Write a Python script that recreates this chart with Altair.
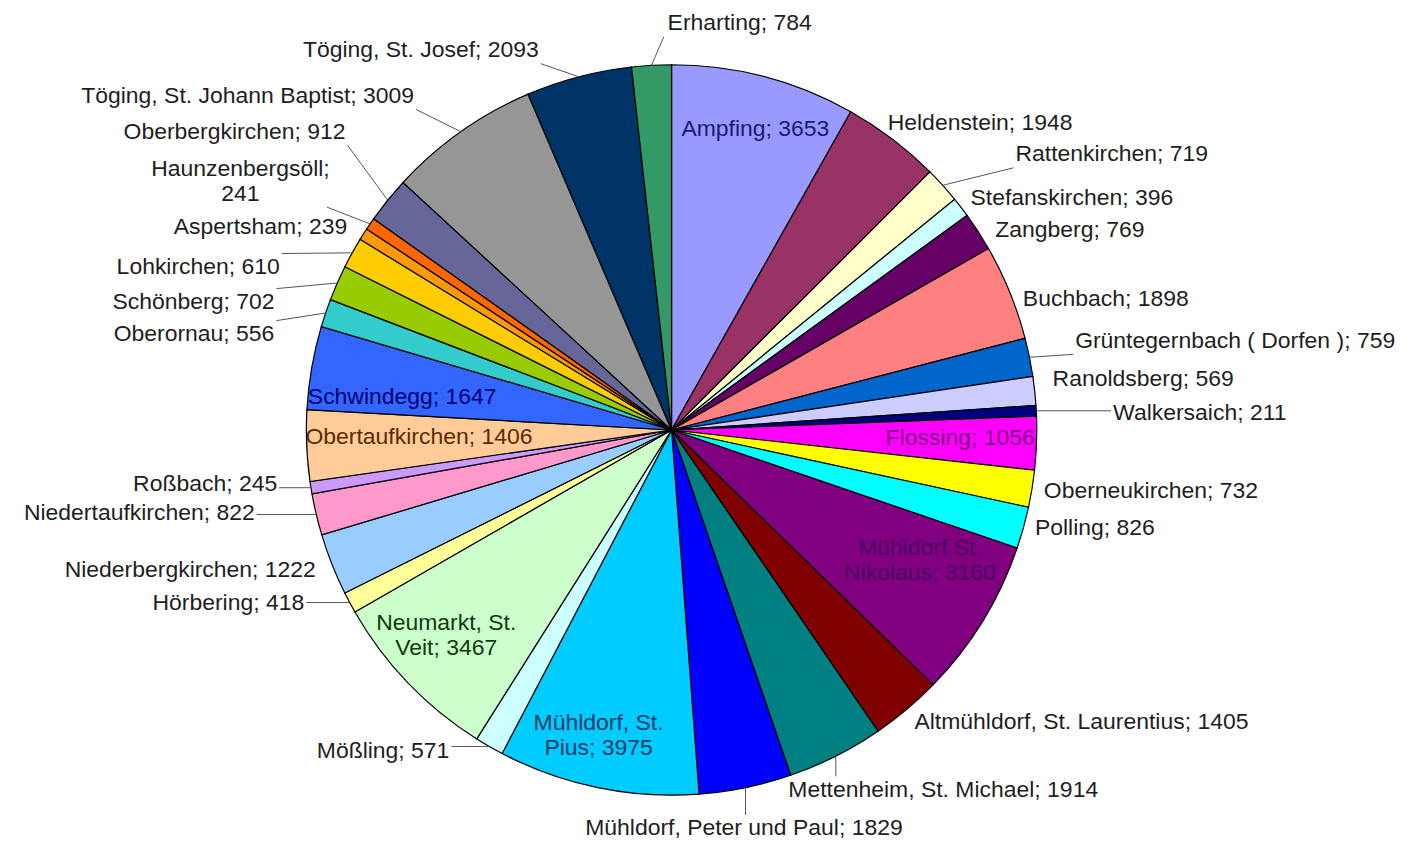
import math
import textwrap
import altair as alt
import pandas as pd

# ---------------- data ----------------
names = [
    "Ampfing", "Heldenstein", "Rattenkirchen", "Stefanskirchen", "Zangberg",
    "Buchbach", "Grüntegernbach ( Dorfen )", "Ranoldsberg", "Walkersaich", "Flossing",
    "Oberneukirchen", "Polling", "Mühldorf St. Nikolaus", "Altmühldorf, St. Laurentius",
    "Mettenheim, St. Michael", "Mühldorf, Peter und Paul", "Mühldorf, St. Pius", "Mößling",
    "Neumarkt, St. Veit", "Hörbering", "Niederbergkirchen", "Niedertaufkirchen", "Roßbach",
    "Obertaufkirchen", "Schwindegg", "Oberornau", "Schönberg", "Lohkirchen", "Aspertsham",
    "Haunzenbergsöll", "Oberbergkirchen", "Töging, St. Johann Baptist", "Töging, St. Josef",
    "Erharting",
]
values = [
    3653, 1948, 719, 396, 769,
    1898, 759, 569, 211, 1056,
    732, 826, 3160, 1405,
    1914, 1829, 3975, 571,
    3467, 418, 1222, 822, 245,
    1406, 1647, 556, 702, 610, 239,
    241, 912, 3009, 2093,
    784,
]

# ---------------- styles ----------------
slice_colors = [
    "#9999FF", "#993366", "#FFFFCC", "#CCFFFF", "#660066",
    "#FF8080", "#0066CC", "#CCCCFF", "#000080", "#FF00FF",
    "#FFFF00", "#00FFFF", "#800080", "#800000",
    "#008080", "#0000FF", "#00CCFF", "#CCFFFF",
    "#CCFFCC", "#FFFF99", "#99CCFF", "#FF99CC", "#CC99FF",
    "#FFCC99", "#3366FF", "#33CCCC", "#99CC00", "#FFCC00", "#FF9900",
    "#FF6600", "#666699", "#969696", "#003366",
    "#339966",
]
DEFAULT_TXT = "#1e1e1e"
inside_text_colors = {
    "Ampfing": "#1a1a70", "Flossing": "#800080", "Mühldorf St. Nikolaus": "#4a0060",
    "Mühldorf, St. Pius": "#0a3a66", "Neumarkt, St. Veit": "#0f3a0f",
    "Obertaufkirchen": "#5a2a00", "Schwindegg": "#000070",
}

# label layout: (placement, nudge dx, nudge dy in px, wrap onto two lines)
label_layout = [
    ("in", 6, -4, False), ("out", -12, -7, False), ("out", 64, -23, False), ("out", 0, -2, False),
    ("out", 7, 5, False), ("out", 2, 11, False), ("out", 34, -14, False), ("out", 6, -11, False),
    ("out", 65, 3, False), ("in", -18, -3, False), ("out", 0, 0, False), ("out", 0, -3, False),
    ("in", -13, -30, True), ("out", 0, 3, False), ("out", -53, 23, False), ("out", -4, 29, False),
    ("in", -11, 5, True), ("out", -34, -6, False), ("in", -4, -7, True), ("out", -35, -5, False),
    ("out", -5, 1, False), ("out", -50, -4, False), ("out", -22, -6, False), ("in", 54, -6, False),
    ("in", 33, 19, False), ("out", -40, 25, False), ("out", -52, 24, False), ("out", -62, 20, False),
    ("out", -6, -1, False), ("out", -120, -36, True), ("out", -33, -61, False), ("out", -40, -26, False),
    ("out", -37, -15, False), ("out", 89, -30, False),
]

R = 366          # pie radius
W, H = 1330, 816  # plot area
FS = 23
LH = 25

# ---------------- derived tables ----------------
total = sum(values)
arc_rows, lab_rows, lead_rows = [], [], []
cum = 0.0
for i, (nm, v) in enumerate(zip(names, values)):
    mid = (cum + v / 2.0) / total * 2 * math.pi
    cum += v
    s, c = math.sin(mid), math.cos(mid)
    place, dx, dy, wrap = label_layout[i]
    text = f"{nm}; {v}"
    lines = textwrap.wrap(text, 14, break_long_words=False) if wrap else [text]
    arc_rows.append({"idx": i, "name": nm, "value": v, "color": slice_colors[i]})
    if place == "in":
        r = 0.84 * R
        ax, ay = r * s + dx, -r * c + dy
        align = "center"
        tcol = inside_text_colors.get(nm, DEFAULT_TXT)
    else:
        r = R + 12
        ax, ay = r * s + dx, -r * c + dy
        if len(lines) > 1:
            align = "center"
        elif s > 0.22:
            align = "left"
        elif s < -0.22:
            align = "right"
        else:
            align = "center"
        tcol = DEFAULT_TXT
        # leader line: from the slice edge to the nearest point of the label box
        w = max(len(t) for t in lines) * FS * 0.46 + 4
        h = len(lines) * LH
        if align == "left":
            x0, x1 = ax - 2, ax + w
        elif align == "right":
            x0, x1 = ax - w, ax + 2
        else:
            x0, x1 = ax - w / 2, ax + w / 2
        y0, y1 = ay - h / 2 - 1, ay + h / 2 + 1
        ex, ey = R * s, -R * c
        tx, ty = min(max(ex, x0), x1), min(max(ey, y0), y1)
        if math.hypot(tx - ex, ty - ey) > 20:
            lead_rows.append({"x": ex, "y": ey, "x2": tx, "y2": ty})
    # multi-line text: first line sits at the anchor, so lift the block to centre it
    lab_rows.append({"text": "\n".join(lines), "x": ax,
                     "y": ay - (len(lines) - 1) * LH / 2.0, "align": align, "tcol": tcol})

arc_df = pd.DataFrame(arc_rows)
lab_df = pd.DataFrame(lab_rows)
lead_df = pd.DataFrame(lead_rows)

xs = alt.Scale(domain=[-W / 2, W / 2], nice=False, zero=False)
ys = alt.Scale(domain=[H / 2, -H / 2], nice=False, zero=False)

pie = alt.Chart(arc_df).mark_arc(outerRadius=R, stroke="black", strokeWidth=1.2).encode(
    theta=alt.Theta("value:Q", stack=True),
    color=alt.Color("color:N", scale=None),
    order=alt.Order("idx:Q"),
)

leaders = alt.Chart(lead_df).mark_rule(color="#555555", strokeWidth=1).encode(
    x=alt.X("x:Q", scale=xs, axis=None),
    y=alt.Y("y:Q", scale=ys, axis=None),
    x2="x2:Q",
    y2="y2:Q",
)

layers = [pie, leaders]
for al in ["left", "right", "center"]:
    sub = lab_df[lab_df["align"] == al]
    if len(sub) == 0:
        continue
    layers.append(
        alt.Chart(sub).mark_text(
            align=al, baseline="middle", font="Liberation Sans", fontSize=FS,
            lineBreak="\n", lineHeight=LH,
        ).encode(
            x=alt.X("x:Q", scale=xs, axis=None),
            y=alt.Y("y:Q", scale=ys, axis=None),
            text="text:N",
            color=alt.Color("tcol:N", scale=None),
        )
    )

chart = alt.layer(*layers).properties(
    width=W, height=H,
    autosize=alt.AutoSizeParams(type="none"),
    padding={"left": 0, "top": 14, "right": 66, "bottom": 2},
    background="white",
).configure_view(stroke=None)

chart.save("out.html", embed_options={"renderer": "svg", "actions": False})
